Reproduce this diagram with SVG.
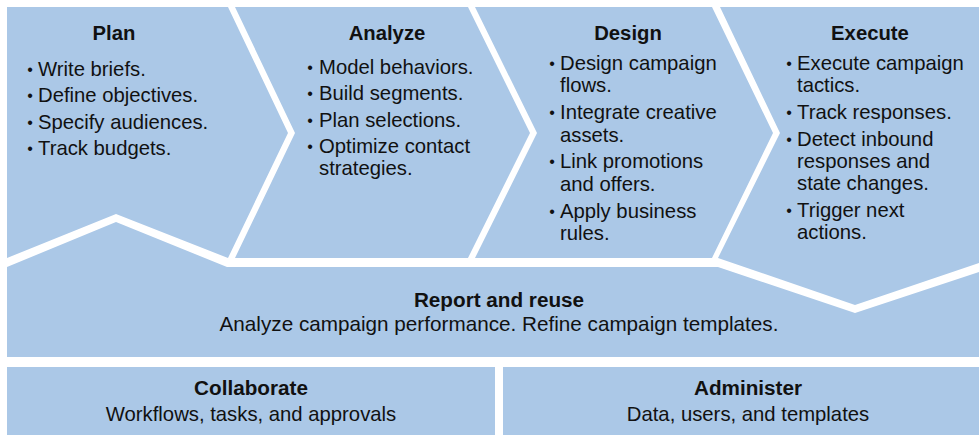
<svg xmlns="http://www.w3.org/2000/svg" width="979" height="435" viewBox="0 0 979 435">
<style>
.shape{fill:#abc8e7}
.t{font-family:"Liberation Sans",Arial,sans-serif;font-size:20.3px;fill:#111}
.h{font-weight:bold;text-anchor:middle}
.c{text-anchor:middle}
.w{font-size:20.7px}
.b{font-family:"Liberation Sans",Arial,sans-serif;font-size:16px;fill:#111;text-anchor:middle}
</style>
<rect width="979" height="435" fill="#fff"/>
<g id="plan">
<polygon class="shape" points="7,7 228,7 288,133 228,258 116,214 7,258"/>
<text class="t h" x="114" y="40">Plan</text>
<text class="b" x="30" y="75">•</text><text class="t" x="38" y="76">Write briefs.</text>
<text class="b" x="30" y="101">•</text><text class="t" x="38" y="102">Define objectives.</text>
<text class="b" x="30" y="128">•</text><text class="t" x="38" y="129">Specify audiences.</text>
<text class="b" x="30" y="154">•</text><text class="t" x="38" y="155">Track budgets.</text>
</g>
<g id="analyze">
<polygon class="shape" points="235,7 468,7 530,133 468,258 235,258 295,133"/>
<text class="t h" x="387" y="40">Analyze</text>
<text class="b" x="310" y="73">•</text><text class="t" x="319" y="74">Model behaviors.</text>
<text class="b" x="310" y="99">•</text><text class="t" x="319" y="100">Build segments.</text>
<text class="b" x="310" y="126">•</text><text class="t" x="319" y="127">Plan selections.</text>
<text class="b" x="310" y="152">•</text><text class="t" x="319" y="153">Optimize contact<tspan x="319" y="175">strategies.</tspan></text>
</g>
<g id="design">
<polygon class="shape" points="475,7 712,7 773,133 712,258 475,258 537,133"/>
<text class="t h" x="628" y="40">Design</text>
<text class="b" x="552" y="69">•</text><text class="t" x="560" y="70">Design campaign<tspan x="560" y="92">flows.</tspan></text>
<text class="b" x="552" y="118">•</text><text class="t" x="560" y="119">Integrate creative<tspan x="560" y="142">assets.</tspan></text>
<text class="b" x="552" y="167">•</text><text class="t" x="560" y="168">Link promotions<tspan x="560" y="191">and offers.</tspan></text>
<text class="b" x="552" y="217">•</text><text class="t" x="560" y="218">Apply business<tspan x="560" y="240">rules.</tspan></text>
</g>
<g id="execute">
<polygon class="shape" points="720,7 979,7 979,263 855,305 718,258 780,133"/>
<text class="t h" x="870" y="40">Execute</text>
<text class="b" x="789" y="69">•</text><text class="t" x="797" y="70">Execute campaign<tspan x="797" y="92">tactics.</tspan></text>
<text class="b" x="789" y="118">•</text><text class="t" x="797" y="119">Track responses.</text>
<text class="b" x="789" y="145">•</text><text class="t" x="797" y="146">Detect inbound<tspan x="797" y="168">responses and</tspan><tspan x="797" y="190">state changes.</tspan></text>
<text class="b" x="789" y="216">•</text><text class="t" x="797" y="217">Trigger next<tspan x="797" y="239">actions.</tspan></text>
</g>
<g id="report">
<polygon class="shape" points="7,267 116,222 227,267 718,267 855,313 979,272 979,357 7,357"/>
<text class="t h w" x="499" y="307">Report and reuse</text>
<text class="t c w" x="499" y="331">Analyze campaign performance. Refine campaign templates.</text>
</g>
<g id="collaborate">
<rect class="shape" x="7" y="367" width="488" height="68"/>
<text class="t h w" x="251" y="395">Collaborate</text>
<text class="t c" x="251" y="421">Workflows, tasks, and approvals</text>
</g>
<g id="administer">
<rect class="shape" x="503" y="367" width="476" height="68"/>
<text class="t h w" x="748" y="395">Administer</text>
<text class="t c" x="748" y="421">Data, users, and templates</text>
</g>
</svg>
